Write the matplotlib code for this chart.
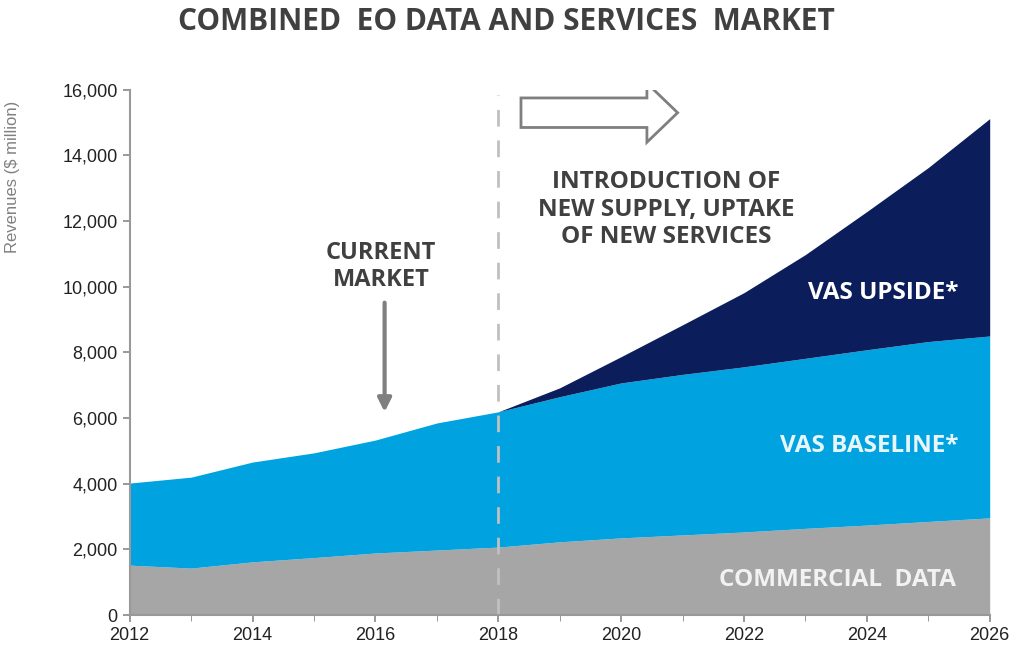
import matplotlib.pyplot as plt
import matplotlib.patches as mpatches
import numpy as np

years = [2012, 2013, 2014, 2015, 2016, 2017, 2018, 2019, 2020, 2021, 2022, 2023, 2024, 2025, 2026]
commercial = [1520, 1430, 1620, 1750, 1890, 1980, 2070, 2230, 2350, 2440, 2530, 2640, 2740, 2850, 2960]
baseline_total = [4020, 4200, 4660, 4940, 5330, 5850, 6190, 6650, 7070, 7330, 7560, 7820, 8080, 8330, 8500]
upside_total = [4020, 4200, 4660, 4940, 5330, 5850, 6190, 6920, 7870, 8840, 9820, 10980, 12290, 13630, 15120]

yticks = [0, 2000, 4000, 6000, 8000, 10000, 12000, 14000, 16000]
xticks = [2012, 2014, 2016, 2018, 2020, 2022, 2024, 2026]

GREY = '#a6a6a6'
LIGHT = '#00a3e0'
NAVY = '#0b1e5b'
TXT = '#404040'
FONT = 'Open Sans'

fig = plt.figure(figsize=(10.13, 6.55), dpi=100)
ax = fig.add_axes([0.128, 0.061, 0.849, 0.802])

x = np.array(years)
ax.fill_between(x, 0, commercial, color=GREY, lw=0)
ax.fill_between(x, commercial, baseline_total, color=LIGHT, lw=0)
ax.fill_between(x, baseline_total, upside_total, color=NAVY, lw=0)

ax.axvline(2018, ymin=0, ymax=0.99, color='#c0c0c0', lw=2, ls=(0, (6, 5)))

ax.set_xlim(2012, 2026)
ax.set_ylim(0, 16000)
ax.set_yticks(yticks)
ax.set_yticklabels([f'{v:,}' for v in yticks])
ax.set_xticks(xticks)
ax.set_xticks(years, minor=True)
ax.tick_params(axis='both', colors='#888888', labelcolor='#222222', labelsize=13, length=5, width=1.2)
ax.tick_params(axis='x', which='minor', length=4, colors='#888888')
for lab in ax.get_xticklabels() + ax.get_yticklabels():
    lab.set_family('Liberation Sans')
for s in ['top', 'right']:
    ax.spines[s].set_visible(False)
for s in ['left', 'bottom']:
    ax.spines[s].set_color('#999999')
    ax.spines[s].set_linewidth(1.5)
ax.set_ylabel('Revenues ($ million)', fontsize=12, color='#808080', family='Liberation Sans')
ax.yaxis.set_label_coords(-0.128, 0.834)

fig.text(0.5, 0.966, 'COMBINED  EO DATA AND SERVICES  MARKET', ha='center', va='center',
         fontsize=21.5, fontweight='bold', color=TXT, family=FONT)

# hollow arrow
arr = mpatches.FancyArrow(2018.37, 15300, 2.05, 0, width=900, head_width=1800, head_length=0.5,
                          length_includes_head=False, facecolor='white', edgecolor='#7f7f7f', lw=2)
ax.add_patch(arr)
ax.text(2020.74, 12350, 'INTRODUCTION OF\nNEW SUPPLY, UPTAKE\nOF NEW SERVICES', ha='center', va='center',
        fontsize=17.5, fontweight='bold', color=TXT, family=FONT, linespacing=1.2)

ax.annotate('', xy=(2016.15, 6100), xytext=(2016.15, 9600),
            arrowprops=dict(arrowstyle='-|>', color='#7f7f7f', lw=3, mutation_scale=20))
ax.text(2016.09, 10610, 'CURRENT\nMARKET', ha='center', va='center',
        fontsize=17, fontweight='bold', color=TXT, family=FONT, linespacing=1.2)

ax.text(2025.5, 9800, 'VAS UPSIDE*', ha='right', va='center', fontsize=17.5,
        fontweight='bold', color='white', family=FONT)
ax.text(2025.5, 5140, 'VAS BASELINE*', ha='right', va='center', fontsize=17.5,
        fontweight='bold', color='#e8f6fc', family=FONT)
ax.text(2025.45, 1070, 'COMMERCIAL  DATA', ha='right', va='center', fontsize=17.5,
        fontweight='bold', color='#f2f2f2', family=FONT)

fig.savefig('out.png', dpi=100)
